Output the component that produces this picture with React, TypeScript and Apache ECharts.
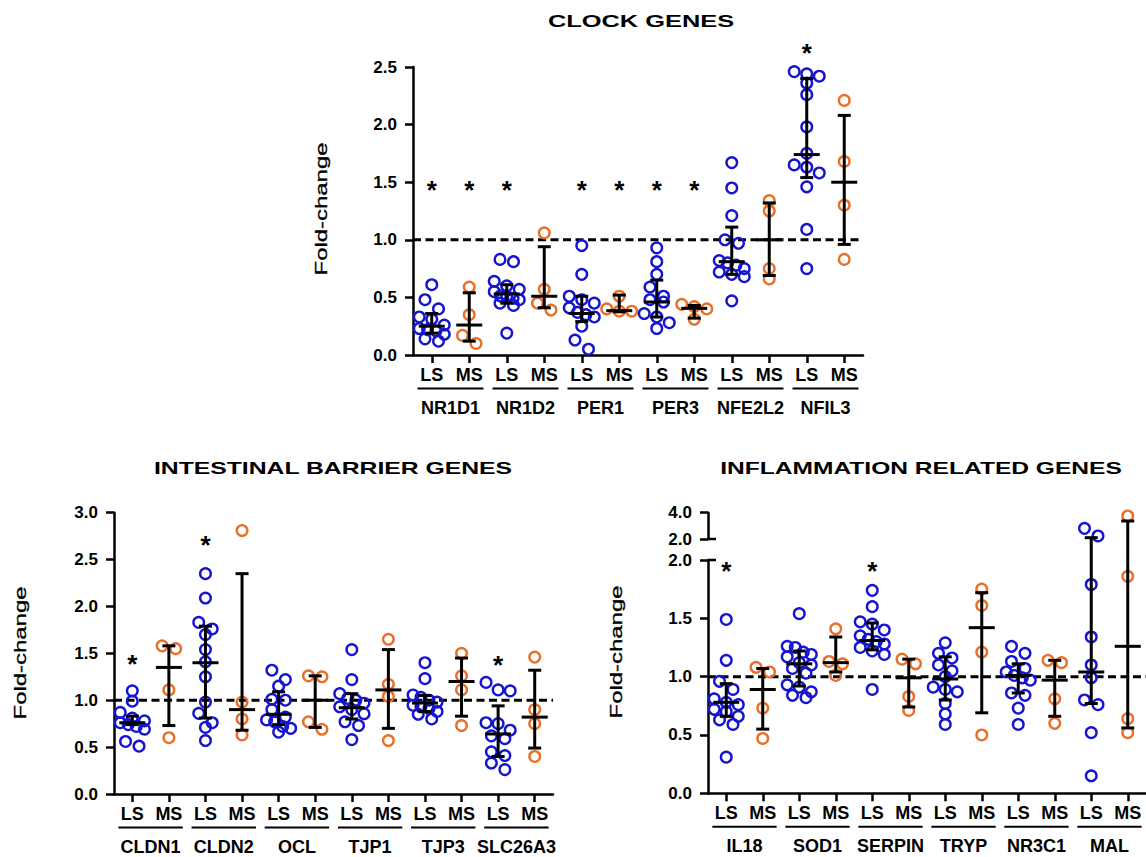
import React, { useEffect, useRef } from 'react';
import * as echarts from 'echarts';

// ---------------- data ----------------
const subgroups = ['LS', 'MS'];

// CLOCK GENES
const clockGenes = ['NR1D1', 'NR1D2', 'PER1', 'PER3', 'NFE2L2', 'NFIL3'];
const clockYTicks = [0, 0.5, 1.0, 1.5, 2.0, 2.5];
const clockLS = [
  [0.61, 0.48, 0.40, 0.33, 0.31, 0.26, 0.23, 0.22, 0.21, 0.18, 0.14, 0.12],
  [0.83, 0.81, 0.64, 0.60, 0.57, 0.55, 0.52, 0.51, 0.50, 0.48, 0.45, 0.43, 0.19],
  [0.95, 0.70, 0.51, 0.48, 0.45, 0.41, 0.37, 0.35, 0.33, 0.25, 0.13, 0.05],
  [0.93, 0.81, 0.70, 0.59, 0.51, 0.48, 0.46, 0.36, 0.33, 0.28, 0.23],
  [1.67, 1.45, 1.21, 1.00, 0.97, 0.82, 0.80, 0.78, 0.75, 0.72, 0.70, 0.68, 0.47],
  [2.46, 2.44, 2.42, 2.36, 2.26, 1.98, 1.75, 1.65, 1.63, 1.58, 1.46, 1.09, 0.75],
];
const clockMS = [
  [0.59, 0.35, 0.17, 0.10],
  [1.06, 0.57, 0.45, 0.39],
  [0.51, 0.40, 0.38, 0.38],
  [0.44, 0.42, 0.40, 0.31],
  [1.34, 1.25, 0.75, 0.66],
  [2.21, 1.68, 1.30, 0.83],
];
const clockLSMid = [0.25, 0.53, 0.36, 0.46, 0.81, 1.74];
const clockLSLow = [0.19, 0.45, 0.29, 0.33, 0.70, 1.54];
const clockLSHigh = [0.36, 0.61, 0.51, 0.65, 1.11, 2.40];
const clockMSMid = [0.26, 0.51, 0.385, 0.405, 1.00, 1.50];
const clockMSLow = [0.12, 0.41, 0.375, 0.32, 0.69, 0.96];
const clockMSHigh = [0.54, 0.94, 0.52, 0.43, 1.32, 2.08];
const clockStars = [[0, 1.47], [1, 1.47], [2, 1.47], [4, 1.47], [5, 1.47], [6, 1.47], [7, 1.47], [10, 2.66]];

// INTESTINAL BARRIER GENES
const barrierGenes = ['CLDN1', 'CLDN2', 'OCL', 'TJP1', 'TJP3', 'SLC26A3'];
const barrierYTicks = [0, 0.5, 1.0, 1.5, 2.0, 2.5, 3.0];
const barrierLS = [
  [1.10, 0.99, 0.87, 0.81, 0.79, 0.76, 0.74, 0.72, 0.70, 0.56, 0.51],
  [2.35, 2.09, 1.83, 1.76, 1.70, 1.54, 1.41, 1.25, 0.98, 0.86, 0.76, 0.71, 0.57],
  [1.32, 1.22, 1.15, 1.01, 1.00, 0.90, 0.82, 0.79, 0.77, 0.72, 0.70, 0.66],
  [1.54, 1.22, 1.07, 1.02, 1.00, 0.98, 0.93, 0.90, 0.87, 0.77, 0.73, 0.58],
  [1.40, 1.23, 1.07, 1.03, 1.00, 0.98, 0.96, 0.93, 0.91, 0.88, 0.85, 0.80],
  [1.19, 1.11, 1.10, 0.76, 0.75, 0.68, 0.62, 0.59, 0.45, 0.41, 0.33, 0.26],
];
const barrierMS = [
  [1.58, 1.55, 1.11, 0.60],
  [2.81, 0.98, 0.80, 0.63],
  [1.26, 1.25, 0.77, 0.69],
  [1.65, 1.17, 1.04, 0.57],
  [1.50, 1.26, 1.11, 0.73],
  [1.46, 0.90, 0.75, 0.40],
];
const barrierLSMid = [0.76, 1.40, 0.85, 0.92, 0.97, 0.64];
const barrierLSLow = [0.74, 0.81, 0.74, 0.80, 0.88, 0.40];
const barrierLSHigh = [0.83, 1.79, 1.09, 1.07, 1.05, 0.94];
const barrierMSMid = [1.35, 0.90, 1.00, 1.11, 1.20, 0.82];
const barrierMSLow = [0.73, 0.68, 0.71, 0.70, 0.83, 0.49];
const barrierMSHigh = [1.58, 2.35, 1.26, 1.54, 1.45, 1.32];
const barrierStars = [[0, 1.44], [2, 2.71], [10, 1.43]];

// INFLAMMATION RELATED GENES (broken axis: 0-2 below, 2-4 above)
const inflamGenes = ['IL18', 'SOD1', 'SERPIN', 'TRYP', 'NR3C1', 'MAL'];
const inflamYTicksLow = [0, 0.5, 1.0, 1.5, 2.0];
const inflamYTicksHigh = [2.0, 4.0];
const inflamLS = [
  [1.49, 1.14, 0.96, 0.89, 0.81, 0.78, 0.76, 0.72, 0.70, 0.66, 0.63, 0.59, 0.31],
  [1.54, 1.26, 1.25, 1.21, 1.19, 1.17, 1.12, 1.10, 1.07, 1.03, 0.93, 0.91, 0.87, 0.84, 0.82],
  [1.74, 1.60, 1.47, 1.45, 1.40, 1.35, 1.32, 1.30, 1.28, 1.25, 1.22, 1.19, 0.89],
  [1.29, 1.20, 1.16, 1.10, 1.05, 1.00, 0.91, 0.89, 0.87, 0.77, 0.68, 0.59],
  [1.26, 1.20, 1.13, 1.07, 1.04, 1.01, 0.99, 0.97, 0.86, 0.84, 0.73, 0.59],
  [2.81, 2.23, 1.79, 1.34, 1.10, 0.99, 0.80, 0.76, 0.52, 0.15],
];
const inflamMS = [
  [1.08, 1.04, 0.73, 0.47],
  [1.41, 1.13, 1.11, 1.01],
  [1.15, 1.11, 0.83, 0.71],
  [1.75, 1.61, 1.21, 0.50],
  [1.14, 1.12, 0.81, 0.60],
  [3.75, 1.86, 0.64, 0.52],
];
const inflamLSMid = [0.78, 1.11, 1.31, 0.98, 1.01, 1.04];
const inflamLSLow = [0.66, 0.92, 1.23, 0.80, 0.86, 0.77];
const inflamLSHigh = [0.94, 1.22, 1.46, 1.17, 1.11, 2.10];
const inflamMSMid = [0.89, 1.12, 0.99, 1.42, 0.97, 1.26];
const inflamMSLow = [0.55, 1.04, 0.74, 0.69, 0.66, 0.56];
const inflamMSHigh = [1.07, 1.34, 1.15, 1.72, 1.14, 3.37];
const inflamStars = [[0, 1.95], [4, 1.95]];

const referenceLevel = 1.0;
const axisBreakValue = 2.0;

// ---------------- styling ----------------
const BLUE = '#1515cf';
const ORANGE = '#e8702a';
const FONT = '"Liberation Sans", Arial, Helvetica, sans-serif';
const R = 5.3;
const STAR_SIZE = 26;

function interleave<T>(a: T[], b: T[]): T[] {
  const r: T[] = [];
  a.forEach((v, i) => r.push(v, b[i]));
  return r;
}

function swarmOffsets(ys: number[], bandW: number): number[] {
  const S = 13.5;
  const ROW = 10;
  const offs: number[] = new Array(ys.length).fill(0);
  let start = 0;
  while (start < ys.length) {
    let end = start + 1;
    while (end < ys.length && ys[end] - ys[start] < ROW) end++;
    const n = end - start;
    const s = n > 1 ? Math.min(S, (bandW * 0.95 - 2 * R) / (n - 1)) : 0;
    for (let k = 0; k < n; k++) offs[start + k] = (k - (n - 1) / 2) * s;
    start = end;
  }
  return offs;
}

function pointsSeries(xi: number, yi: number, valsByCat: number[][], keep: (v: number) => boolean) {
  return {
    type: 'custom',
    xAxisIndex: xi,
    yAxisIndex: yi,
    data: valsByCat.map((_, i) => [i, 0]),
    renderItem: (params: any, api: any) => {
      const i = api.value(0);
      const vals = valsByCat[i].filter(keep);
      const bandW = api.size([1, 0])[0];
      const cx = api.coord([i, 0])[0];
      const ys = vals.map((v) => api.coord([i, v])[1]).sort((a, b) => a - b);
      const offs = swarmOffsets(ys, bandW);
      const color = i % 2 === 0 ? BLUE : ORANGE;
      return {
        type: 'group',
        children: ys.map((y, k) => ({
          type: 'circle',
          shape: { cx: cx + offs[k], cy: y, r: R },
          style: { fill: 'none', stroke: color, lineWidth: 2.4 },
        })),
      };
    },
  };
}

function statsSeries(
  xi: number, yi: number, mid: number[], low: number[], high: number[],
  range: { min: number; max: number; gapPx: number }
) {
  const line = (x1: number, y1: number, x2: number, y2: number) => ({
    type: 'line',
    shape: { x1, y1, x2, y2 },
    style: { stroke: '#000', lineWidth: 3 },
  });
  return {
    type: 'custom',
    xAxisIndex: xi,
    yAxisIndex: yi,
    data: mid.map((_, i) => [i, 0]),
    renderItem: (params: any, api: any) => {
      const i = api.value(0);
      const c = mid[i], lo = low[i], hi = high[i];
      const children: any[] = [];
      if (hi <= range.min || lo > range.max) return { type: 'group', children };
      const x = api.coord([i, c])[0];
      const yLo = api.coord([i, Math.max(lo, range.min)])[1];
      let yHi = api.coord([i, Math.min(hi, range.max)])[1];
      if (hi > range.max) yHi -= range.gapPx;
      children.push(line(x, yLo, x, yHi));
      const cap = 6.5, meanW = 13;
      if (lo >= range.min && lo <= range.max) children.push(line(x - cap, yLo, x + cap, yLo));
      if (hi >= range.min && hi <= range.max) children.push(line(x - cap, yHi, x + cap, yHi));
      if (c >= range.min && c <= range.max) {
        const yc = api.coord([i, c])[1];
        children.push(line(x - meanW, yc, x + meanW, yc));
      }
      return { type: 'group', children };
    },
  };
}

function refLineSeries(xi: number, yi: number) {
  return {
    type: 'custom',
    xAxisIndex: xi,
    yAxisIndex: yi,
    data: [[0, referenceLevel]],
    renderItem: (params: any, api: any) => {
      const cs = params.coordSys;
      const y = api.coord([0, api.value(1)])[1];
      return {
        type: 'line',
        shape: { x1: cs.x, y1: y, x2: cs.x + cs.width, y2: y },
        style: { stroke: '#000', lineWidth: 3, lineDash: [8, 4.5] },
      };
    },
  };
}

function starSeries(xi: number, yi: number, stars: number[][]) {
  return {
    type: 'custom',
    xAxisIndex: xi,
    yAxisIndex: yi,
    data: stars,
    renderItem: (params: any, api: any) => {
      const p = api.coord([api.value(0), api.value(1)]);
      return {
        type: 'text',
        x: p[0],
        y: p[1] + 0.18 * STAR_SIZE,
        style: {
          text: '*',
          fill: '#000',
          font: `bold ${STAR_SIZE}px ${FONT}`,
          align: 'center',
          verticalAlign: 'middle',
          textAlign: 'center',
          textVerticalAlign: 'middle',
        },
      };
    },
  };
}

function underlineSeries(xi: number, yi: number, nGenes: number) {
  return {
    type: 'custom',
    xAxisIndex: xi,
    yAxisIndex: yi,
    data: Array.from({ length: nGenes }, (_, g) => [g, 0]),
    renderItem: (params: any, api: any) => {
      const g = api.value(0);
      const cs = params.coordSys;
      const bandW = api.size([1, 0])[0];
      const x1 = api.coord([2 * g, 0])[0] - 0.38 * bandW;
      const x2 = api.coord([2 * g + 1, 0])[0] + 0.38 * bandW;
      const y = cs.y + cs.height + 33.5;
      return {
        type: 'line',
        shape: { x1, y1: y, x2, y2: y },
        style: { stroke: '#000', lineWidth: 2 },
      };
    },
  };
}

function breakMarkSeries(xi: number, yi: number) {
  return {
    type: 'custom',
    xAxisIndex: xi,
    yAxisIndex: yi,
    data: [[0, axisBreakValue]],
    renderItem: (params: any, api: any) => {
      const cs = params.coordSys;
      const y = api.coord([0, api.value(1)])[1];
      return {
        type: 'line',
        shape: { x1: cs.x, y1: y, x2: cs.x + 8, y2: y },
        style: { stroke: '#000', lineWidth: 2.5 },
      };
    },
  };
}

const catAxis = (gridIndex: number, data: string[], show = true) => ({
  type: 'category',
  gridIndex,
  data,
  show,
  position: 'bottom',
  axisLine: { show: true, onZero: false, lineStyle: { color: '#000', width: 2.5 } },
  axisTick: { show: true, alignWithLabel: true, length: 8, lineStyle: { color: '#000', width: 2.5 } },
  axisLabel: { color: '#000', fontSize: 18, fontWeight: 'bold', fontFamily: FONT, margin: 11, interval: 0 },
  splitLine: { show: false },
});

const geneAxis = (gridIndex: number, data: string[]) => ({
  type: 'category',
  gridIndex,
  data,
  position: 'bottom',
  axisLine: { show: false },
  axisTick: { show: false },
  axisLabel: { color: '#000', fontSize: 18, fontWeight: 'bold', fontFamily: FONT, margin: 44, interval: 0 },
  splitLine: { show: false },
});

const valAxis = (gridIndex: number, ticks: number[]) => ({
  type: 'value',
  gridIndex,
  min: ticks[0],
  max: ticks[ticks.length - 1],
  interval: ticks[1] - ticks[0],
  axisLine: { show: true, onZero: false, lineStyle: { color: '#000', width: 2.5 } },
  axisTick: { show: true, length: 8, lineStyle: { color: '#000', width: 2.5 } },
  axisLabel: {
    color: '#000', fontSize: 17, fontWeight: 'bold', fontFamily: FONT, margin: 16,
    formatter: (v: number) => v.toFixed(1),
  },
  splitLine: { show: false },
});

function titleText(text: string, x: number, y: number, scaleX: number) {
  return {
    type: 'text',
    x,
    y,
    scaleX,
    style: {
      text,
      fill: '#000',
      font: `bold 16.5px ${FONT}`,
      align: 'center',
      verticalAlign: 'middle',
      textAlign: 'center',
      textVerticalAlign: 'middle',
    },
  };
}

function yNameText(x: number, y: number) {
  return {
    type: 'text',
    x,
    y,
    rotation: Math.PI / 2,
    scaleX: 1.45,
    style: {
      text: 'Fold-change',
      fill: '#000',
      font: `16.5px ${FONT}`,
      align: 'center',
      verticalAlign: 'middle',
      textAlign: 'center',
      textVerticalAlign: 'middle',
      stroke: '#000',
      lineWidth: 0.3,
    },
  };
}

function buildOption() {
  const clockCats = clockGenes.flatMap(() => subgroups);
  const barrierCats = barrierGenes.flatMap(() => subgroups);
  const inflamCats = inflamGenes.flatMap(() => subgroups);

  const clockVals = interleave(clockLS, clockMS);
  const barrierVals = interleave(barrierLS, barrierMS);
  const inflamVals = interleave(inflamLS, inflamMS);

  const all = { min: -Infinity, max: Infinity, gapPx: 0 };

  return {
    animation: false,
    backgroundColor: '#fff',
    grid: [
      { left: 413, top: 67, width: 450, height: 288 },
      { left: 114, top: 512.7, width: 439, height: 281.3 },
      { left: 708, top: 560, width: 438, height: 233.3 },
      { left: 708, top: 512.7, width: 438, height: 26.3 },
    ],
    xAxis: [
      catAxis(0, clockCats),
      geneAxis(0, clockGenes),
      catAxis(1, barrierCats),
      geneAxis(1, barrierGenes),
      catAxis(2, inflamCats),
      geneAxis(2, inflamGenes),
      catAxis(3, inflamCats, false),
    ],
    yAxis: [
      valAxis(0, clockYTicks),
      valAxis(1, barrierYTicks),
      valAxis(2, inflamYTicksLow),
      valAxis(3, inflamYTicksHigh),
    ],
    series: [
      // clock
      refLineSeries(0, 0),
      pointsSeries(0, 0, clockVals, () => true),
      statsSeries(0, 0, interleave(clockLSMid, clockMSMid), interleave(clockLSLow, clockMSLow), interleave(clockLSHigh, clockMSHigh), all),
      starSeries(0, 0, clockStars),
      underlineSeries(0, 0, clockGenes.length),
      // barrier
      refLineSeries(2, 1),
      pointsSeries(2, 1, barrierVals, () => true),
      statsSeries(2, 1, interleave(barrierLSMid, barrierMSMid), interleave(barrierLSLow, barrierMSLow), interleave(barrierLSHigh, barrierMSHigh), all),
      starSeries(2, 1, barrierStars),
      underlineSeries(2, 1, barrierGenes.length),
      // inflammation (lower part)
      refLineSeries(4, 2),
      pointsSeries(4, 2, inflamVals, (v) => v <= axisBreakValue),
      statsSeries(4, 2, interleave(inflamLSMid, inflamMSMid), interleave(inflamLSLow, inflamMSLow), interleave(inflamLSHigh, inflamMSHigh),
        { min: -Infinity, max: axisBreakValue, gapPx: 21 }),
      starSeries(4, 2, inflamStars),
      underlineSeries(4, 2, inflamGenes.length),
      breakMarkSeries(4, 2),
      // inflammation (upper part)
      pointsSeries(6, 3, inflamVals, (v) => v > axisBreakValue),
      statsSeries(6, 3, interleave(inflamLSMid, inflamMSMid), interleave(inflamLSLow, inflamMSLow), interleave(inflamLSHigh, inflamMSHigh),
        { min: axisBreakValue, max: Infinity, gapPx: 0 }),
      breakMarkSeries(6, 3),
    ],
    graphic: [
      titleText('CLOCK GENES', 641, 22, 1.54),
      titleText('INTESTINAL BARRIER GENES', 333, 468, 1.50),
      titleText('INFLAMMATION RELATED GENES', 921, 468, 1.49),
      yNameText(321, 209),
      yNameText(20, 653),
      yNameText(616, 652),
    ],
  };
}

export default function App() {
  const ref = useRef<HTMLDivElement>(null);
  useEffect(() => {
    if (!ref.current) return;
    const chart = echarts.init(ref.current, null, { renderer: 'svg' });
    chart.setOption(buildOption() as any);
    return () => chart.dispose();
  }, []);
  return (
    <div
      ref={ref}
      style={{ position: 'fixed', left: 0, top: 0, width: 1146, height: 857, background: '#fff' }}
    />
  );
}
